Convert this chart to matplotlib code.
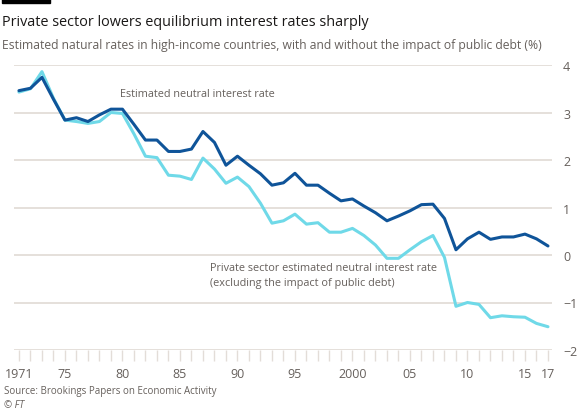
import matplotlib
matplotlib.use('Agg')
import matplotlib.pyplot as plt

years = list(range(1971, 2018))

neutral = [3.46, 3.51, 3.74, 3.28, 2.84, 2.89, 2.81, 2.95, 3.07, 3.07,
           2.75, 2.42, 2.42, 2.18, 2.18, 2.23, 2.60, 2.37, 1.89, 2.08,
           1.89, 1.71, 1.47, 1.52, 1.72, 1.47, 1.47, 1.30, 1.14, 1.18,
           1.03, 0.89, 0.72, 0.82, 0.93, 1.06, 1.07, 0.77, 0.11, 0.34,
           0.48, 0.33, 0.38, 0.38, 0.44, 0.34, 0.19]

private = [3.43, 3.50, 3.86, 3.30, 2.84, 2.81, 2.77, 2.81, 3.00, 2.98,
           2.55, 2.08, 2.05, 1.68, 1.66, 1.59, 2.04, 1.81, 1.51, 1.64,
           1.44, 1.09, 0.67, 0.72, 0.86, 0.65, 0.68, 0.48, 0.48, 0.56,
           0.41, 0.21, -0.07, -0.07, 0.11, 0.28, 0.41, -0.05, -1.08, -1.00,
           -1.04, -1.32, -1.28, -1.30, -1.31, -1.44, -1.51]

xtick_pos = [1971, 1975, 1980, 1985, 1990, 1995, 2000, 2005, 2010, 2015, 2017]
xtick_lab = ['1971', '75', '80', '85', '90', '95', '2000', '05', '10', '15', '17']
yticks = [-2, -1, 0, 1, 2, 3, 4]

dark = '#0f5499'
light = '#6fd9e8'
grey = '#66605c'
grid = '#e3ddd8'

plt.rcParams['font.family'] = ['Open Sans', 'DejaVu Sans']

fig = plt.figure(figsize=(5.8, 4.14), dpi=100)
ax = fig.add_axes([14 / 580, 1 - 351 / 414, (552 - 14) / 580, (351 - 66) / 414])

for y in yticks:
    ax.axhline(y, color=grid, lw=1.3, zorder=0)

ax.plot(years, private, color=light, lw=2.2, solid_capstyle='round', solid_joinstyle='round', zorder=2)
ax.plot(years, neutral, color=dark, lw=2.2, solid_capstyle='round', solid_joinstyle='round', zorder=3)

ax.set_xlim(1970.57, 2017.35)
ax.set_ylim(-2, 4)
for s in ax.spines.values():
    s.set_visible(False)

ax.set_xticks(years, minor=True)
ax.set_xticks(xtick_pos)
ax.set_xticklabels(xtick_lab)
ax.tick_params(axis='x', which='both', length=8, width=1, color=grid, labelsize=9, labelcolor=grey, pad=4)
ax.yaxis.tick_right()
ax.set_yticks(yticks)
ax.tick_params(axis='y', length=0, labelsize=9, labelcolor=grey, pad=8)

ax.text(1979.8, 3.39, 'Estimated neutral interest rate', fontsize=7.8, color=grey, va='center')
ax.text(1987.6, -0.42, 'Private sector estimated neutral interest rate\n(excluding the impact of public debt)',
        fontsize=7.8, color=grey, va='center', linespacing=1.5)

fig.patches.append(plt.Rectangle((2 / 580, 1 - 4 / 414), 48 / 580, 4 / 414,
                                 transform=fig.transFigure, color='black'))
fig.text(2 / 580, 1 - 22 / 414, 'Private sector lowers equilibrium interest rates sharply',
         fontsize=10.4, color='#1a1817', va='center')
fig.text(2 / 580, 1 - 46 / 414,
         'Estimated natural rates in high-income countries, with and without the impact of public debt (%)',
         fontsize=8.7, color=grey, va='center')
fig.text(4 / 580, 1 - 392 / 414, 'Source: Brookings Papers on Economic Activity',
         fontsize=7, color=grey, va='center')
fig.text(4 / 580, 1 - 406 / 414, '© FT', fontsize=7, color=grey, va='center', style='italic')

fig.savefig('out.png', dpi=100, facecolor='white')
